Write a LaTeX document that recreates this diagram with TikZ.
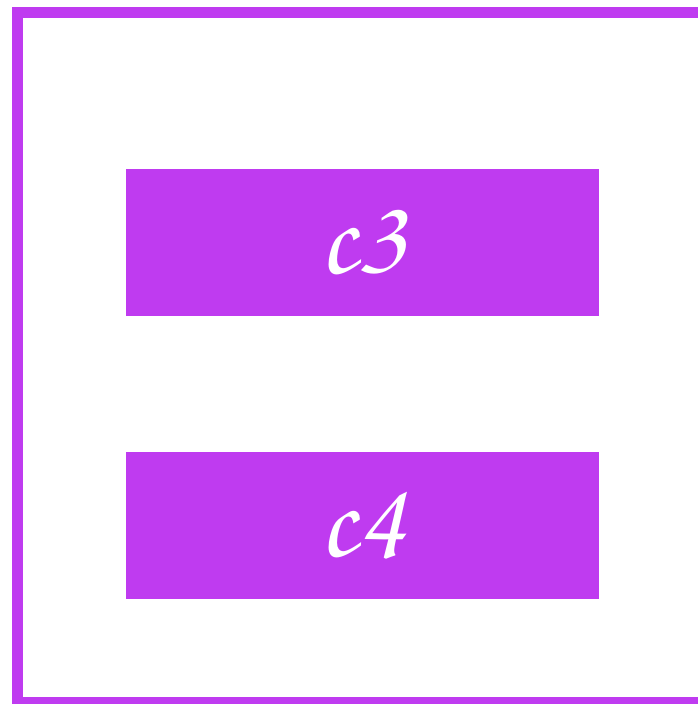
\documentclass[tikz,border=0pt]{standalone}
\usepackage{fontspec}
\usepackage{tikz}
\usetikzlibrary{positioning}
\newfontfamily\handfont{texgyrechorus-mediumitalic.otf}
\definecolor{vio}{RGB}{191,59,240}

\begin{document}
\begin{tikzpicture}[
    x=1pt, y=-1pt,
    frame/.style={draw=vio, line width=11pt},
    block/.style={rectangle, fill=vio, inner sep=0pt,
                  minimum width=473pt, minimum height=147pt, text=white,
                  font=\fontsize{110}{110}\handfont}
]
\useasboundingbox (0,0) rectangle (697,704);
\draw[frame] (720,12.5) -- (17,12.5) -- (17,702) -- (720,702);

\node[block] (c3) at (362.5,242.5) {c3};
\node[block, below=136pt of c3] (c4) {c4};
\end{tikzpicture}
\end{document}
